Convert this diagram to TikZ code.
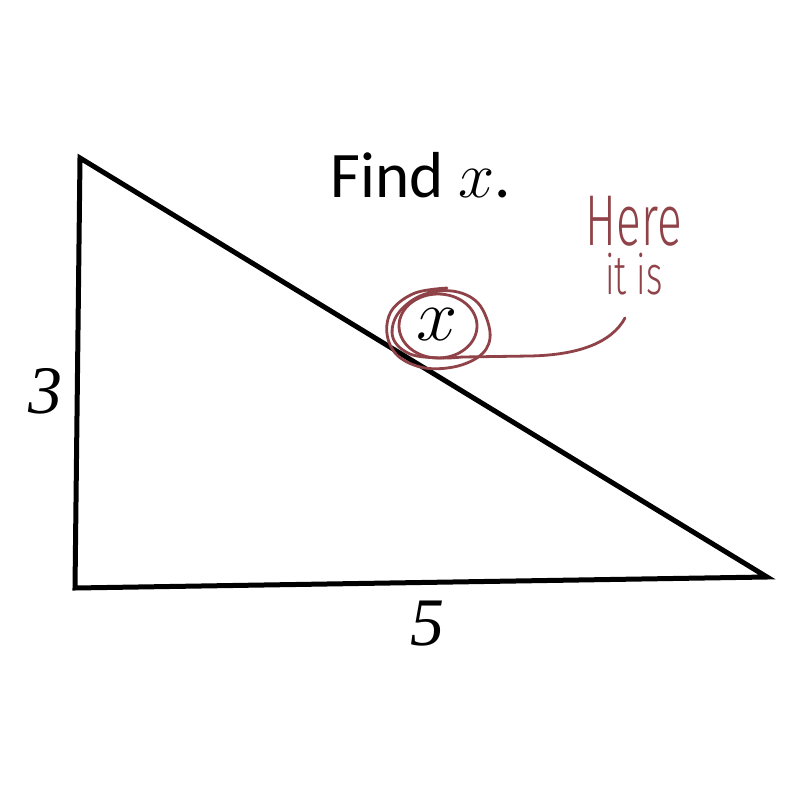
\RequirePackage{fix-cm}
\documentclass[tikz,border=0pt]{standalone}
\usepackage{fontspec}
\setmainfont{Carlito}
\newfontfamily\numfont{Liberation Serif}
\newfontfamily\handfont[FakeStretch=0.64]{Fira Sans Light}
\usetikzlibrary{positioning}
\definecolor{penred}{RGB}{143,66,72}
\tikzset{scribble/.style={draw=penred, line width=2.8pt, line cap=round, line join=round}}
\tikzset{hand/.style={penred, anchor=base, inner sep=0pt, align=center}}

\begin{document}
\begin{tikzpicture}[x=1pt,y=-1pt]
\useasboundingbox (0,0) rectangle (800,800);

% triangle
\coordinate (A) at (80,158);
\coordinate (B) at (75,588);
\coordinate (C) at (767,577);
\draw[line width=5pt] (A) -- (B) -- (C) -- cycle;

\node[anchor=base] (title) at (421,197) {\fontsize{65}{70}\selectfont Find $x$.};
\node[anchor=base] (three) at (45,413) {\fontsize{68}{70}\selectfont\numfont\itshape 3};
\node[anchor=base] (five) at (427,645) {\fontsize{68}{70}\selectfont\numfont\itshape 5};

% the circled x
\node[anchor=base] (xmark) at (437,340) {\fontsize{74}{80}\selectfont $x$};
\draw[scribble] (438,326) ellipse [x radius=39, y radius=32];
\draw[scribble] plot[smooth, tension=0.6] coordinates {(447,288) (415,293) (392,310)
  (387,334) (398,356) (425,368) (458,366) (483,353) (490,332) (478,303) (452,291)
  (420,296) (397,315) (393,338) (410,354) (440,358) (462,357)};
\coordinate (tip) at (625,318);
\draw[scribble] (462,357) -- (530,356) .. controls (580,355) and (612,342) .. (tip);

% the note
\node[hand] (note) at (634,294) {\fontsize{72}{72}\selectfont\handfont Here\\[5pt]
  \fontsize{55}{54}\selectfont\handfont it is};
\end{tikzpicture}
\end{document}
